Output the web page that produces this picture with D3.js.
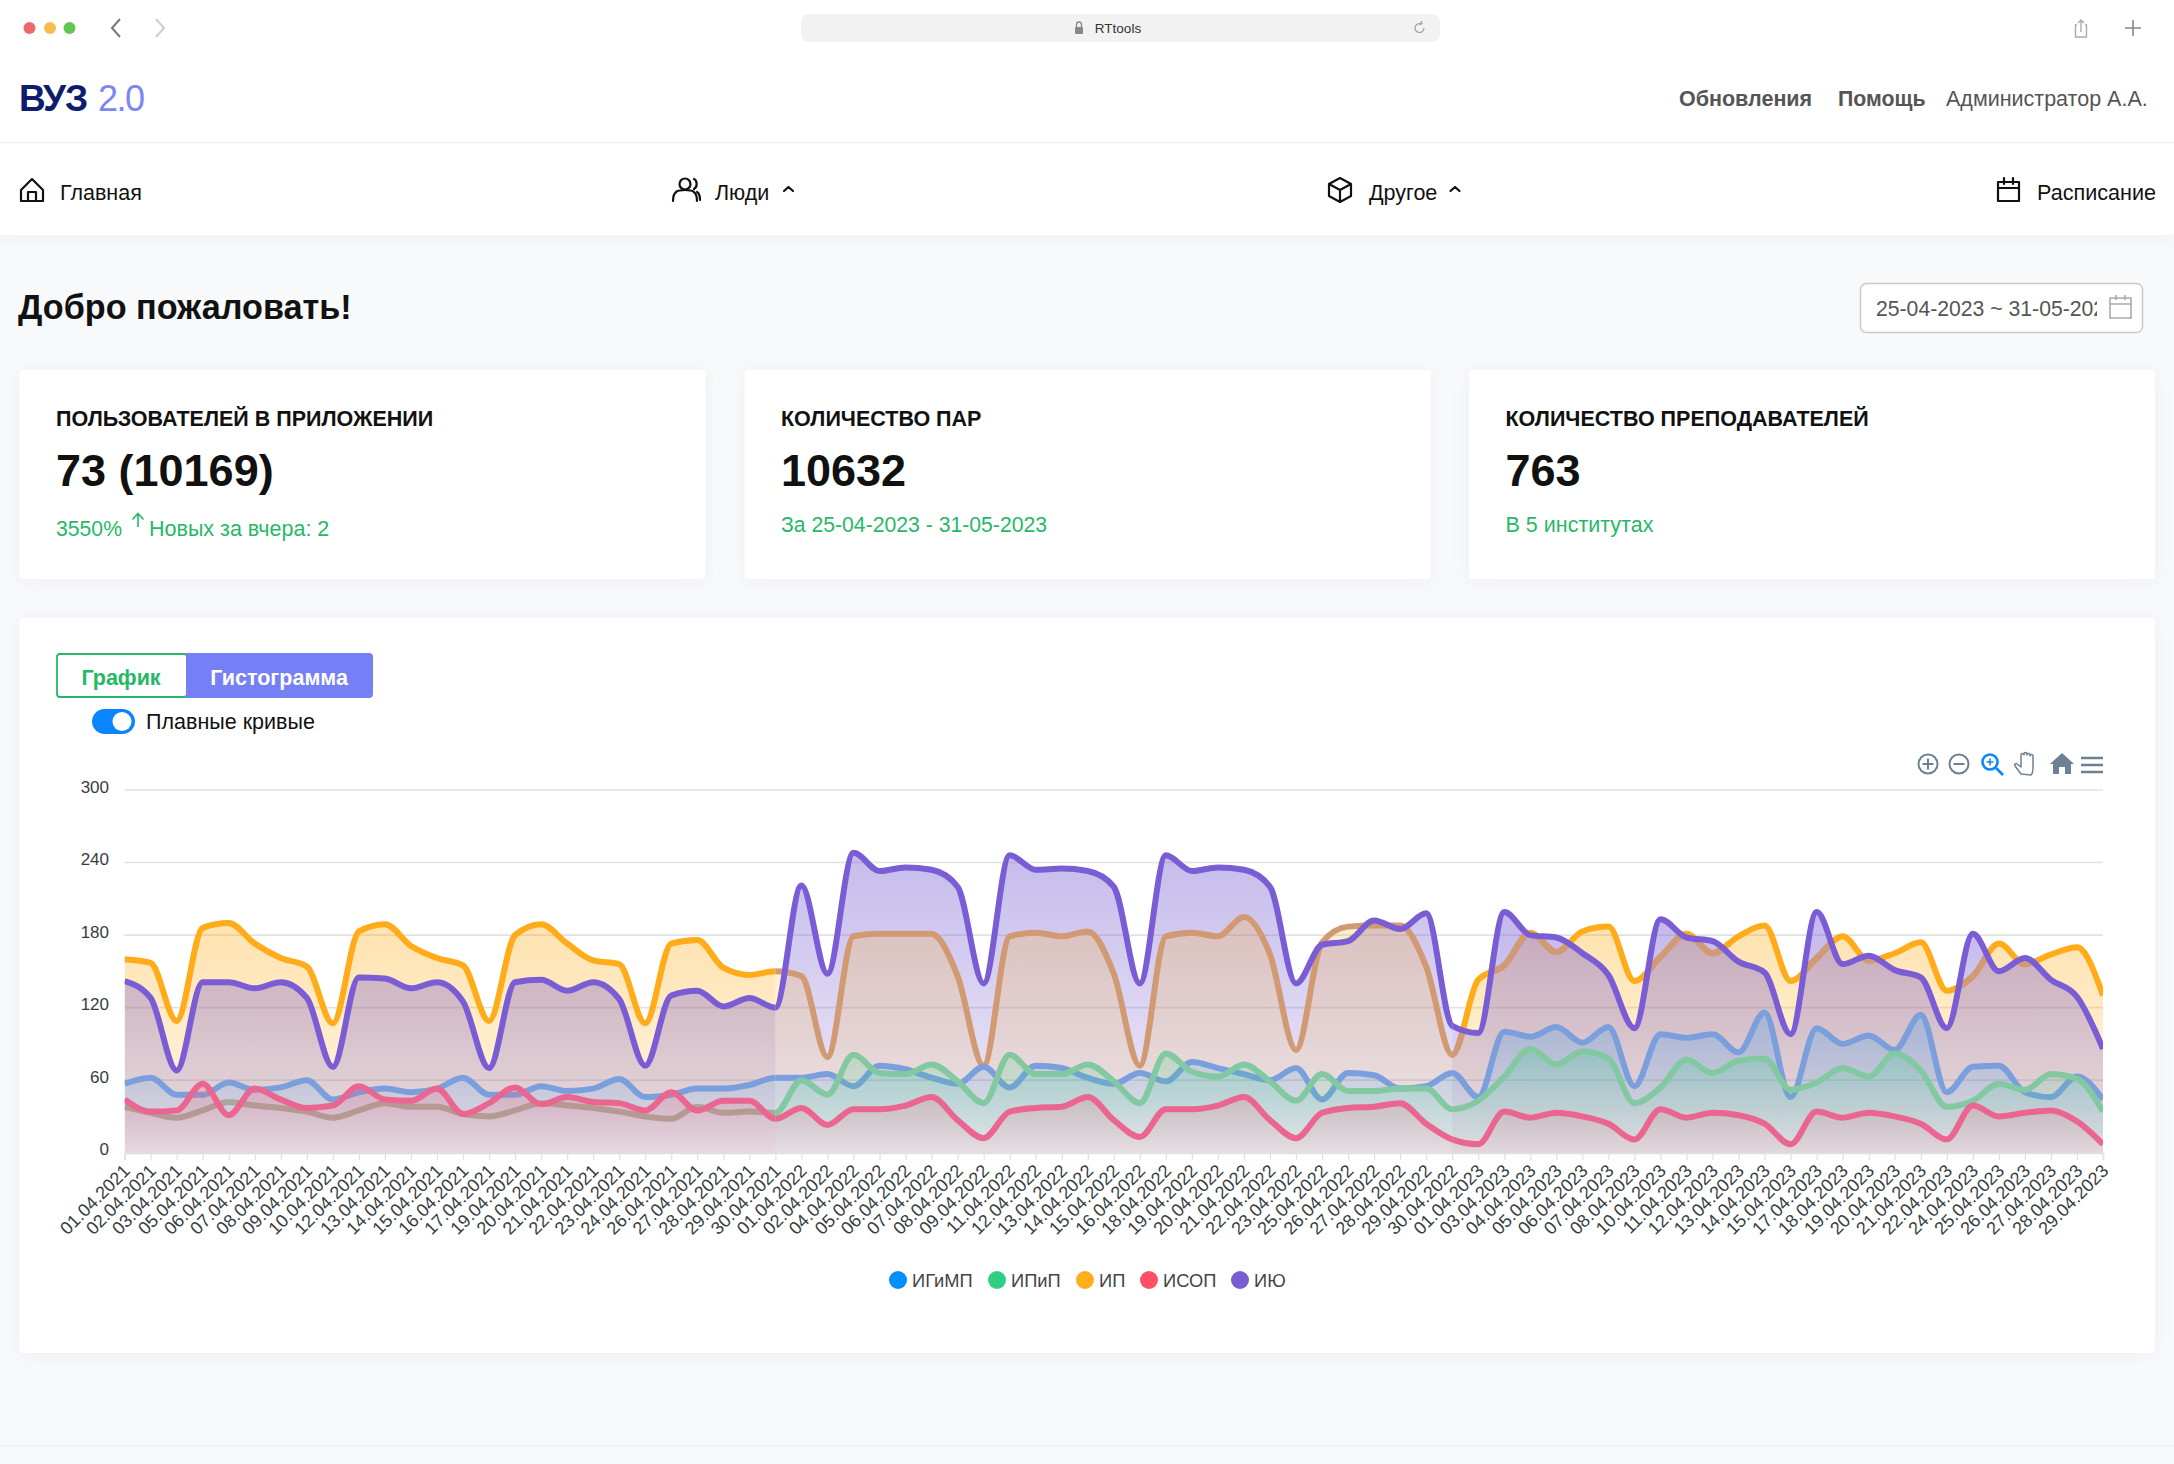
<!DOCTYPE html>
<html lang="ru">
<head>
<meta charset="utf-8">
<title>RTtools</title>
<script src="https://cdn.jsdelivr.net/npm/d3@7"></script>
<style>
html, body { margin: 0; padding: 0; background: #f8f9fb; }
svg { display: block; }
text { font-family: "Liberation Sans", sans-serif; }
.ic { fill: none; stroke: #111; stroke-width: 2.2; stroke-linecap: round; stroke-linejoin: round; }
</style>
</head>
<body>
<svg id="page" width="2174" height="1464"></svg>
<script>
// chart data
var dates = ["01.04.2021","02.04.2021","03.04.2021","05.04.2021","06.04.2021","07.04.2021","08.04.2021","09.04.2021","10.04.2021","12.04.2021","13.04.2021","14.04.2021","15.04.2021","16.04.2021","17.04.2021","19.04.2021","20.04.2021","21.04.2021","22.04.2021","23.04.2021","24.04.2021","26.04.2021","27.04.2021","28.04.2021","29.04.2021","30.04.2021",
"01.04.2022","02.04.2022","04.04.2022","05.04.2022","06.04.2022","07.04.2022","08.04.2022","09.04.2022","11.04.2022","12.04.2022","13.04.2022","14.04.2022","15.04.2022","16.04.2022","18.04.2022","19.04.2022","20.04.2022","21.04.2022","22.04.2022","23.04.2022","25.04.2022","26.04.2022","27.04.2022","28.04.2022","29.04.2022","30.04.2022",
"01.04.2023","03.04.2023","04.04.2023","05.04.2023","06.04.2023","07.04.2023","08.04.2023","10.04.2023","11.04.2023","12.04.2023","13.04.2023","14.04.2023","15.04.2023","17.04.2023","18.04.2023","19.04.2023","20.04.2023","21.04.2023","22.04.2023","24.04.2023","25.04.2023","26.04.2023","27.04.2023","28.04.2023","29.04.2023"];

var igimp = [57,62,48,48,58,52,54,60,44,50,53,50,53,62,48,48,55,51,53,61,46,48,53,53,56,62,
62,65,55,72,69,62,57,71,54,72,70,62,57,66,59,75,70,65,60,70,44,66,64,53,55,66,
46,100,96,104,91,104,55,98,95,98,83,116,46,103,90,97,85,114,50,71,72,50,46,63,44];
var ipip = [38,33,29,35,42,39,37,34,29,35,41,38,38,32,30,35,41,39,37,34,30,28,38,33,34,33,
60,48,81,66,65,73,59,41,81,65,65,73,59,41,82,67,63,73,59,43,65,51,51,53,53,36,
43,63,86,73,84,78,41,54,77,66,76,78,52,58,70,63,82,68,38,43,57,52,65,61,34];
var ip = [160,157,109,186,190,173,161,154,107,183,189,171,161,155,109,180,189,173,159,156,107,173,176,153,147,150,
146,79,179,181,181,181,146,72,179,182,179,183,148,72,179,182,179,195,164,85,174,187,188,188,154,81,
143,155,182,166,183,187,142,162,181,165,179,188,142,161,179,159,165,174,134,146,173,156,164,170,130];
var isop = [44,34,35,57,31,53,44,37,39,55,44,43,53,32,41,54,40,46,42,41,35,50,35,43,43,28,
37,23,36,36,39,46,27,12,34,37,38,46,27,13,36,36,39,46,27,12,33,37,38,41,24,11,
7,34,29,33,30,24,11,36,29,33,31,24,7,34,29,33,30,24,11,39,30,33,35,26,7];
var iyu = [142,128,68,141,141,136,141,128,71,145,144,136,141,125,70,141,143,134,141,127,72,130,134,121,128,120,
221,148,248,233,236,234,220,140,246,234,235,233,220,140,246,233,236,234,220,140,172,175,192,185,198,105,
99,199,180,178,165,147,103,193,178,175,158,149,98,199,156,163,151,145,103,181,150,161,143,129,86];

var seriesNames = ["ИГиМП","ИПиП","ИП","ИСОП","ИЮ"];
var seriesValues = [igimp, ipip, ip, isop, iyu];
var legendColors = ["#008ffb","#2ecf82","#ffae1c","#ff5064","#775dd0"];
var yTicks = [0,60,120,180,240,300];

// cards
var cardTitles = ["ПОЛЬЗОВАТЕЛЕЙ В ПРИЛОЖЕНИИ","КОЛИЧЕСТВО ПАР","КОЛИЧЕСТВО ПРЕПОДАВАТЕЛЕЙ"];
var cardValues = ["73 (10169)","10632","763"];

var svg = d3.select("#page");
var defs = svg.append("defs");

var shadow = defs.append("filter").attr("id","soft")
  .attr("x","-5%").attr("y","-10%").attr("width","110%").attr("height","120%");
shadow.append("feDropShadow").attr("dx",0).attr("dy",2).attr("stdDeviation",9)
  .attr("flood-color","#8a93b0").attr("flood-opacity",0.10);

function label(parent, x, y, str, size, weight, color, anchor) {
  return parent.append("text").attr("x",x).attr("y",y).text(str)
    .attr("font-size",size).attr("font-weight",weight||400)
    .attr("fill",color||"#111").attr("text-anchor",anchor||"start");
}

// ---- top bars
svg.append("rect").attr("x",0).attr("y",0).attr("width",2174).attr("height",235)
  .attr("fill","#fff").attr("filter","url(#soft)");
svg.append("line").attr("x1",0).attr("x2",2174).attr("y1",142.5).attr("y2",142.5).attr("stroke","#f0f0f8").attr("stroke-width",1.5);

[[29.5,"#ee6a6a"],[50,"#f7bd4f"],[69.5,"#62c654"]].forEach(function(d){
  svg.append("circle").attr("cx",d[0]).attr("cy",28).attr("r",6).attr("fill",d[1]);
});
svg.append("path").attr("d","M120 19L112 28L120 37").attr("fill","none").attr("stroke","#777").attr("stroke-width",2);
svg.append("path").attr("d","M156 19L164 28L156 37").attr("fill","none").attr("stroke","#ccc").attr("stroke-width",2);
svg.append("rect").attr("x",801).attr("y",14).attr("width",639).attr("height",28).attr("rx",8).attr("fill","#f2f2f2");
svg.append("rect").attr("x",1075).attr("y",27).attr("width",8).attr("height",7).attr("rx",1).attr("fill","#888");
svg.append("path").attr("d","M1076.5 27v-2.5a2.5 2.5 0 0 1 5 0V27").attr("fill","none").attr("stroke","#888").attr("stroke-width",1.3);
label(svg,1118,33,"RTtools",13.5,400,"#333","middle");
svg.append("path").attr("d","M1424 28a4.5 4.5 0 1 1 -2.5 -4M1421 21l1 2.8 -2.6 1").attr("fill","none").attr("stroke","#999").attr("stroke-width",1.1);
svg.append("path").attr("d","M2077 25h-1.5v12h11V25H2085M2081 32V20M2078 23l3 -3 3 3").attr("fill","none").attr("stroke","#aaa").attr("stroke-width",1.4);
svg.append("path").attr("d","M2133 20v16M2125 28h16").attr("fill","none").attr("stroke","#888").attr("stroke-width",1.6);

label(svg,19,111,"ВУЗ",37,700,"#0e1c6e").attr("letter-spacing",-1.2);
label(svg,98,111,"2.0",36,300,"#7a87f5").attr("font-family","Inter").attr("letter-spacing",-1.5);

label(svg,1679,106,"Обновления",21.5,700,"#555");
label(svg,1838,106,"Помощь",21.3,700,"#555");
label(svg,1946,106,"Администратор А.А.",21.5,400,"#555");

label(svg,60,199.5,"Главная",21.5,400,"#111");
label(svg,715,199.5,"Люди",21.5,400,"#111");
label(svg,1369,199.5,"Другое",21.5,400,"#111");
label(svg,2037,199.5,"Расписание",21.6,400,"#111");

svg.append("path").attr("class","ic").attr("d","M21 190l11 -11 11 11v11H21zM28 201v-9h8v9");
svg.append("circle").attr("class","ic").attr("cx",685).attr("cy",184).attr("r",5.5);
svg.append("path").attr("class","ic").attr("d","M673 201c0 -10 5 -11 12 -11s12 1 12 11M694 179c3 1 4 8 0 10M700 200c0 -4 -1 -7 -3 -8");
svg.append("path").attr("class","ic").attr("d","M1340 178l11 6v12l-11 6 -11 -6v-12zM1329 184l11 6 11 -6M1340 190v12");
svg.append("path").attr("class","ic").attr("d","M1998 182h21v19h-21zM1998 188h21M2004 178v6M2013 178v6");
svg.append("path").attr("class","ic").attr("stroke-width",1.6).attr("d","M784 191l4.500 -4 4.500 4M1450.500 191l4.500 -4 4.500 4");

// ---- heading and date field
label(svg,18,319,"Добро пожаловать!",34.2,700,"#111");

svg.append("rect").attr("x",1860.5).attr("y",283.5).attr("width",282).attr("height",49).attr("rx",6)
  .attr("fill","#fff").attr("stroke","#c9c9c9").attr("stroke-width",1.5);
defs.append("clipPath").attr("id","dateClip").append("rect").attr("x",1870).attr("y",285).attr("width",227).attr("height",46);
label(svg,1876,315.5,"25-04-2023 ~ 31-05-2023",21.2,400,"#555").attr("clip-path","url(#dateClip)");
svg.append("path").attr("d","M2110 298h21v20h-21zM2110 304h21M2116 295v5M2125 295v5").attr("fill","none").attr("stroke","#aaa").attr("stroke-width",1.6);

// ---- cards
[19.5,744.5,1469].forEach(function(x,i){
  svg.append("rect").attr("x",x).attr("y",370).attr("width",686).attr("height",209).attr("rx",4)
    .attr("fill","#fff").attr("filter","url(#soft)");
  label(svg,x+36.5,425.5,cardTitles[i],21.5,700,"#111");
  label(svg,x+36.5,485.5,cardValues[i],45,700,"#111");
});
var green = "#26b868";
label(svg,56,535.5,"3550%",21.2,400,green);
svg.append("path").attr("d","M138 527V514M132.5 519.5L138 513.5 143.500 519.5").attr("fill","none").attr("stroke",green).attr("stroke-width",1.6);
label(svg,149,535.5,"Новых за вчера: 2",21.5,400,green);
label(svg,781,532,"За 25-04-2023 - 31-05-2023",21.2,400,green);
label(svg,1505.500,532,"В 5 институтах",21.5,400,green);

// ---- main card
svg.append("rect").attr("x",19.5).attr("y",618).attr("width",2135.5).attr("height",735).attr("rx",4)
  .attr("fill","#fff").attr("filter","url(#soft)");
svg.append("rect").attr("x",57).attr("y",654).attr("width",130).attr("height",43).attr("rx",3)
  .attr("fill","#fff").attr("stroke",green).attr("stroke-width",1.8);
svg.append("path").attr("d","M186 653H369a4 4 0 0 1 4 4V694a4 4 0 0 1 -4 4H186z").attr("fill","#7680f6");
label(svg,121,685,"График",21.5,700,green,"middle");
label(svg,279,685,"Гистограмма",21.5,700,"#fff","middle");
svg.append("rect").attr("x",92).attr("y",709).attr("width",43).attr("height",25).attr("rx",12.5).attr("fill","#0a84ff");
svg.append("circle").attr("cx",122).attr("cy",721.5).attr("r",9.5).attr("fill","#fff");
label(svg,146,729,"Плавные кривые",21.5,400,"#111");

// ---- chart
var chart = svg.append("g").attr("class","chart");
var xScale = d3.scalePoint().domain(dates).range([124.6,2103]);
var yScale = d3.scaleLinear().domain([0,300]).range([1152.7,790]);

chart.append("g").selectAll("line").data(yTicks.slice(1)).enter().append("line")
  .attr("x1",xScale(dates[0])).attr("x2",xScale(dates[dates.length-1]))
  .attr("y1",function(d){return yScale(d);}).attr("y2",function(d){return yScale(d);})
  .attr("stroke","#e2e2e2").attr("stroke-width",1.6);

var yAxis = d3.axisLeft(yScale).tickValues(yTicks).tickSize(0).tickPadding(0);
var yg = chart.append("g").attr("transform","translate(109,0)").call(yAxis);
yg.select(".domain").remove();
yg.selectAll("text").attr("font-size",17).attr("fill","#373d3f").attr("dy","0.12em")
  .attr("font-family","Liberation Sans");

var xAxis = d3.axisBottom(xScale).tickSize(7).tickPadding(0);
var xg = chart.append("g").attr("transform","translate(0,1153)").call(xAxis);
xg.select(".domain").attr("stroke","#e0e0e0").attr("stroke-width",1.6);
xg.selectAll(".tick line").attr("stroke","#e0e0e0").attr("stroke-width",1.2);
xg.selectAll("text")
  .attr("font-size",18).attr("font-family","Liberation Sans").attr("fill","#373d3f").attr("text-anchor","end").attr("y",0).attr("dy",0)
  .attr("transform","translate(6,19) rotate(-45)");

var lineGen = d3.line().x(function(d,i){return xScale(dates[i]);}).y(function(d){return yScale(d);})
  .curve(d3.curveMonotoneX);
var areaGen = d3.area().x(function(d,i){return xScale(dates[i]);}).y0(yScale(0)).y1(function(d){return yScale(d);})
  .curve(d3.curveMonotoneX);

// fill strength top -> bottom of each series
var fillFrom = [0.22,0.26,0.36,0.22,0.52];
var fillTo = [0.03,0.03,0.10,0.05,0.14];
seriesNames.forEach(function(n,s){
  var g = defs.append("linearGradient").attr("id","fill"+s).attr("gradientUnits","userSpaceOnUse")
    .attr("x1",0).attr("x2",0).attr("y1",yScale(d3.max(seriesValues[s]))).attr("y2",yScale(0));
  g.append("stop").attr("offset",0).attr("stop-color",legendColors[s]).attr("stop-opacity",fillFrom[s]);
  g.append("stop").attr("offset",1).attr("stop-color",legendColors[s]).attr("stop-opacity",fillTo[s]);
});

var lineColors = ["#7b9fdd","#82c9a2","#ffab1a","#ea6690","#7a5dd4"];
var grey = "#a9a69c", brown = "#d19a72";

// each year block stacks the series differently: [series, "a"|"l", opacity or colour]
var blocks = [
  {from:"01.04.2021", to:"30.04.2021", layers:[[2,"a",1],[2,"l"],[4,"a",1],[4,"l"],[0,"a",1],[0,"l"],[1,"l",grey],[3,"a",1],[3,"l"]]},
  {from:"30.04.2021", to:"30.04.2022", layers:[[4,"a",0.8],[2,"a",0.65],[2,"l",brown],[4,"l"],[0,"a",1],[0,"l"],[1,"a",0.85],[1,"l"],[3,"a",1],[3,"l"]]},
  {from:"30.04.2022", to:"29.04.2023", layers:[[2,"a",1],[2,"l"],[4,"a",1],[2,"l",brown,true],[4,"l"],[0,"a",1],[0,"l"],[1,"a",0.85],[1,"l"],[3,"a",1],[3,"l"]]}
];

// in the last block orange only goes brown where it runs under the purple fill
defs.append("clipPath").attr("id","belowPurple").append("path").attr("d",areaGen(iyu));

blocks.forEach(function(b,k){
  var x0 = xScale(b.from), x1 = xScale(b.to);
  defs.append("clipPath").attr("id","block"+k).append("rect")
    .attr("x",x0).attr("y",760).attr("width",x1-x0).attr("height",400);
  var g = chart.append("g").attr("clip-path","url(#block"+k+")");
  b.layers.forEach(function(l){
    var s = l[0];
    if (l[1]=="a") {
      g.append("path").attr("d",areaGen(seriesValues[s])).attr("fill","url(#fill"+s+")").attr("fill-opacity",l[2]);
    } else {
      var p = g.append("path").attr("d",lineGen(seriesValues[s])).attr("fill","none")
        .attr("stroke-width",6).attr("stroke-linejoin","round")
        .attr("stroke",l[2] || lineColors[s]);
      if (l[3]) p.attr("clip-path","url(#belowPurple)");
    }
  });
});

// legend
var legendX = [898,997,1085,1149,1240];
var legend = chart.append("g").selectAll("g").data(seriesNames).enter().append("g")
  .attr("transform",function(d,i){return "translate("+legendX[i]+",1280)";});
legend.append("circle").attr("r",9).attr("fill",function(d,i){return legendColors[i];});
legend.append("text").attr("x",14).attr("y",6.500).attr("font-size",18.3).attr("fill","#404548").text(function(d){return d;});

// toolbar
var tool = "#6e8192";
var bar = svg.append("g").attr("fill","none").attr("stroke",tool).attr("stroke-width",2);
bar.append("circle").attr("cx",1928).attr("cy",764).attr("r",9.5);
bar.append("path").attr("d","M1922.500 764h11M1928 758.500v11");
bar.append("circle").attr("cx",1959).attr("cy",764).attr("r",9.5);
bar.append("path").attr("d","M1953.500 764h11");
bar.append("circle").attr("cx",1990).attr("cy",762).attr("r",7.5).attr("stroke","#0a84ff").attr("stroke-width",2.6);
bar.append("path").attr("d","M1996 768l7 7").attr("stroke","#0a84ff").attr("stroke-width",2.6);
bar.append("path").attr("d","M1986.500 762h7M1990 758.500v7").attr("stroke","#0a84ff").attr("stroke-width",1.5);
bar.append("path").attr("stroke-width",1.5).attr("stroke-linejoin","round")
  .attr("d","M2021 774l-6 -8c-1 -2 1 -3 2 -2l4 3v-12c0 -2 3 -2 3 0v-1c0 -2 3 -2 3 0v1c0 -2 3 -2 3 0v1c0 -2 3 -2 3 0v12c0 3 -1 6 -2 7z");
bar.append("path").attr("stroke","none").attr("fill",tool).attr("d","M2062 753l12 11h-3v10h-6v-7h-6v7h-6v-10h-3z");
bar.append("path").attr("stroke-width",2.6).attr("d","M2081 758h22M2081 765h22M2081 772h22");

svg.append("line").attr("x1",0).attr("x2",2174).attr("y1",1446).attr("y2",1446).attr("stroke","#eceef2").attr("stroke-width",1.5);
</script>
</body>
</html>
